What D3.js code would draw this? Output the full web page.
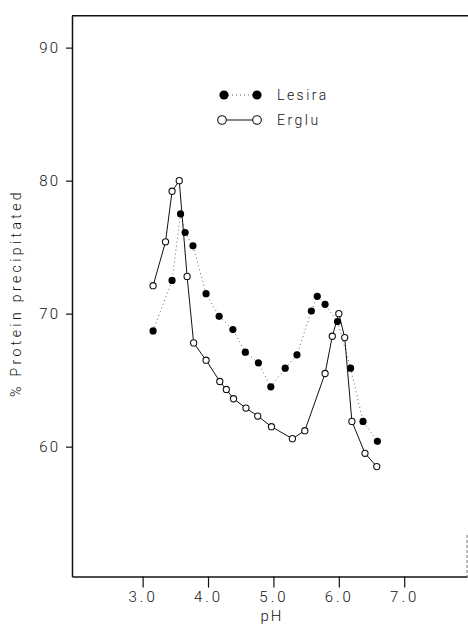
<!DOCTYPE html>
<html>
<head>
<meta charset="utf-8">
<script src="https://cdn.jsdelivr.net/npm/d3@7"></script>
<style>
  body { margin: 0; background: #fff; }
  text { font-family: Roboto, "Liberation Sans", sans-serif; font-weight: 300; fill: #111; }
</style>
</head>
<body>
<script>
// pH vs % protein precipitated, two varieties
var erglu_ph  = [3.16, 3.35, 3.45, 3.56, 3.68, 3.78, 3.97, 4.18, 4.28, 4.39, 4.58, 4.76, 4.97, 5.29, 5.48, 5.79, 5.90, 6.00, 6.09, 6.20, 6.40, 6.58];
var erglu_pct = [72.1, 75.4, 79.2, 80.0, 72.8, 67.8, 66.5, 64.9, 64.3, 63.6, 62.9, 62.3, 61.5, 60.6, 61.2, 65.5, 68.3, 70.0, 68.2, 61.9, 59.5, 58.5];

var lesira_ph  = [3.16, 3.45, 3.58, 3.65, 3.77, 3.97, 4.17, 4.38, 4.57, 4.77, 4.96, 5.18, 5.36, 5.58, 5.67, 5.79, 5.98, 6.18, 6.37, 6.59];
var lesira_pct = [68.7, 72.5, 77.5, 76.1, 75.1, 71.5, 69.8, 68.8, 67.1, 66.3, 64.5, 65.9, 66.9, 70.2, 71.3, 70.7, 69.4, 65.9, 61.9, 60.4];

var x_ticks = [3, 4, 5, 6, 7];
var y_ticks = [60, 70, 80, 90];

var w = 468, h = 629;
var plot_l = 72, plot_r = 467, plot_t = 15.7, plot_b = 576.6;

var svg = d3.select("body").append("svg")
    .attr("width", w)
    .attr("height", h);

var x = d3.scaleLinear().domain([1.92, 7.96]).range([plot_l, plot_r]);
var y = d3.scaleLinear().domain([50.23, 92.4]).range([plot_b, plot_t]);

var erglu = erglu_ph.map(function (d, i) { return {x: d, y: erglu_pct[i]}; });
var lesira = lesira_ph.map(function (d, i) { return {x: d, y: lesira_pct[i]}; });

// frame bits: top edge and the faint stub of the right edge
svg.append("line")
    .attr("x1", plot_l).attr("x2", w).attr("y1", plot_t).attr("y2", plot_t)
    .attr("stroke", "#111").attr("stroke-width", 1.5);
svg.append("line")
    .attr("x1", plot_r).attr("x2", plot_r).attr("y1", 535).attr("y2", plot_b)
    .attr("stroke", "#777").attr("stroke-width", 1).attr("stroke-dasharray", "3,2");

var xAxis = svg.append("g")
    .attr("transform", "translate(0," + plot_b + ")")
    .call(d3.axisBottom(x).tickValues(x_ticks).tickSize(11).tickSizeOuter(0).tickPadding(4).tickFormat(d3.format(".1f")));
var yAxis = svg.append("g")
    .attr("transform", "translate(" + plot_l + ",0)")
    .call(d3.axisLeft(y).tickValues(y_ticks).tickSize(6).tickSizeOuter(0).tickPadding(6).tickFormat(d3.format("d")));

[xAxis, yAxis].forEach(function (g) {
    g.select(".domain").attr("stroke", "#111").attr("stroke-width", 1.5);
    g.selectAll(".tick line").attr("stroke", "#111").attr("stroke-width", 1.2);
    g.selectAll(".tick text")
        .style("font-size", "15px")
        .style("letter-spacing", "3px")
        .attr("fill", "#111");
});
yAxis.selectAll(".tick text").style("letter-spacing", "2px");

svg.append("text")
    .attr("x", 272).attr("y", 621)
    .attr("text-anchor", "middle")
    .style("font-size", "15px")
    .style("letter-spacing", "2px")
    .text("pH");

svg.append("text")
    .attr("transform", "translate(21,293) rotate(-90)")
    .attr("text-anchor", "middle")
    .style("font-size", "14px")
    .style("letter-spacing", "3.4px")
    .text("% Protein precipitated");

var line = d3.line().x(function (d) { return x(d.x); }).y(function (d) { return y(d.y); });

svg.append("path").datum(lesira)
    .attr("d", line)
    .attr("fill", "none")
    .attr("stroke", "#666")
    .attr("stroke-width", 1)
    .attr("stroke-dasharray", "1,3");

svg.append("path").datum(erglu)
    .attr("d", line)
    .attr("fill", "none")
    .attr("stroke", "#111")
    .attr("stroke-width", 1);

svg.selectAll("circle.lesira").data(lesira).enter().append("circle")
    .attr("class", "lesira")
    .attr("cx", function (d) { return x(d.x); })
    .attr("cy", function (d) { return y(d.y); })
    .attr("r", 3.6)
    .attr("fill", "#000");

svg.selectAll("circle.erglu").data(erglu).enter().append("circle")
    .attr("class", "erglu")
    .attr("cx", function (d) { return x(d.x); })
    .attr("cy", function (d) { return y(d.y); })
    .attr("r", 3.1)
    .attr("fill", "#fff")
    .attr("stroke", "#111")
    .attr("stroke-width", 1.1);

// legend
var legend = svg.append("g");
legend.append("line")
    .attr("x1", 224).attr("x2", 257).attr("y1", 95).attr("y2", 95)
    .attr("stroke", "#666").attr("stroke-dasharray", "1,3");
legend.selectAll("circle.lf").data([224, 257]).enter().append("circle")
    .attr("cx", function (d) { return d; }).attr("cy", 95).attr("r", 4.6).attr("fill", "#000");
legend.append("text")
    .attr("x", 277).attr("y", 100)
    .style("font-size", "14px").style("letter-spacing", "2.5px")
    .text("Lesira");

legend.append("line")
    .attr("x1", 222).attr("x2", 257).attr("y1", 120).attr("y2", 120)
    .attr("stroke", "#111");
legend.selectAll("circle.le").data([222, 257]).enter().append("circle")
    .attr("cx", function (d) { return d; }).attr("cy", 120).attr("r", 4.3)
    .attr("fill", "#fff").attr("stroke", "#111").attr("stroke-width", 1.1);
legend.append("text")
    .attr("x", 277).attr("y", 125)
    .style("font-size", "14px").style("letter-spacing", "2.5px")
    .text("Erglu");
</script>
</body>
</html>
